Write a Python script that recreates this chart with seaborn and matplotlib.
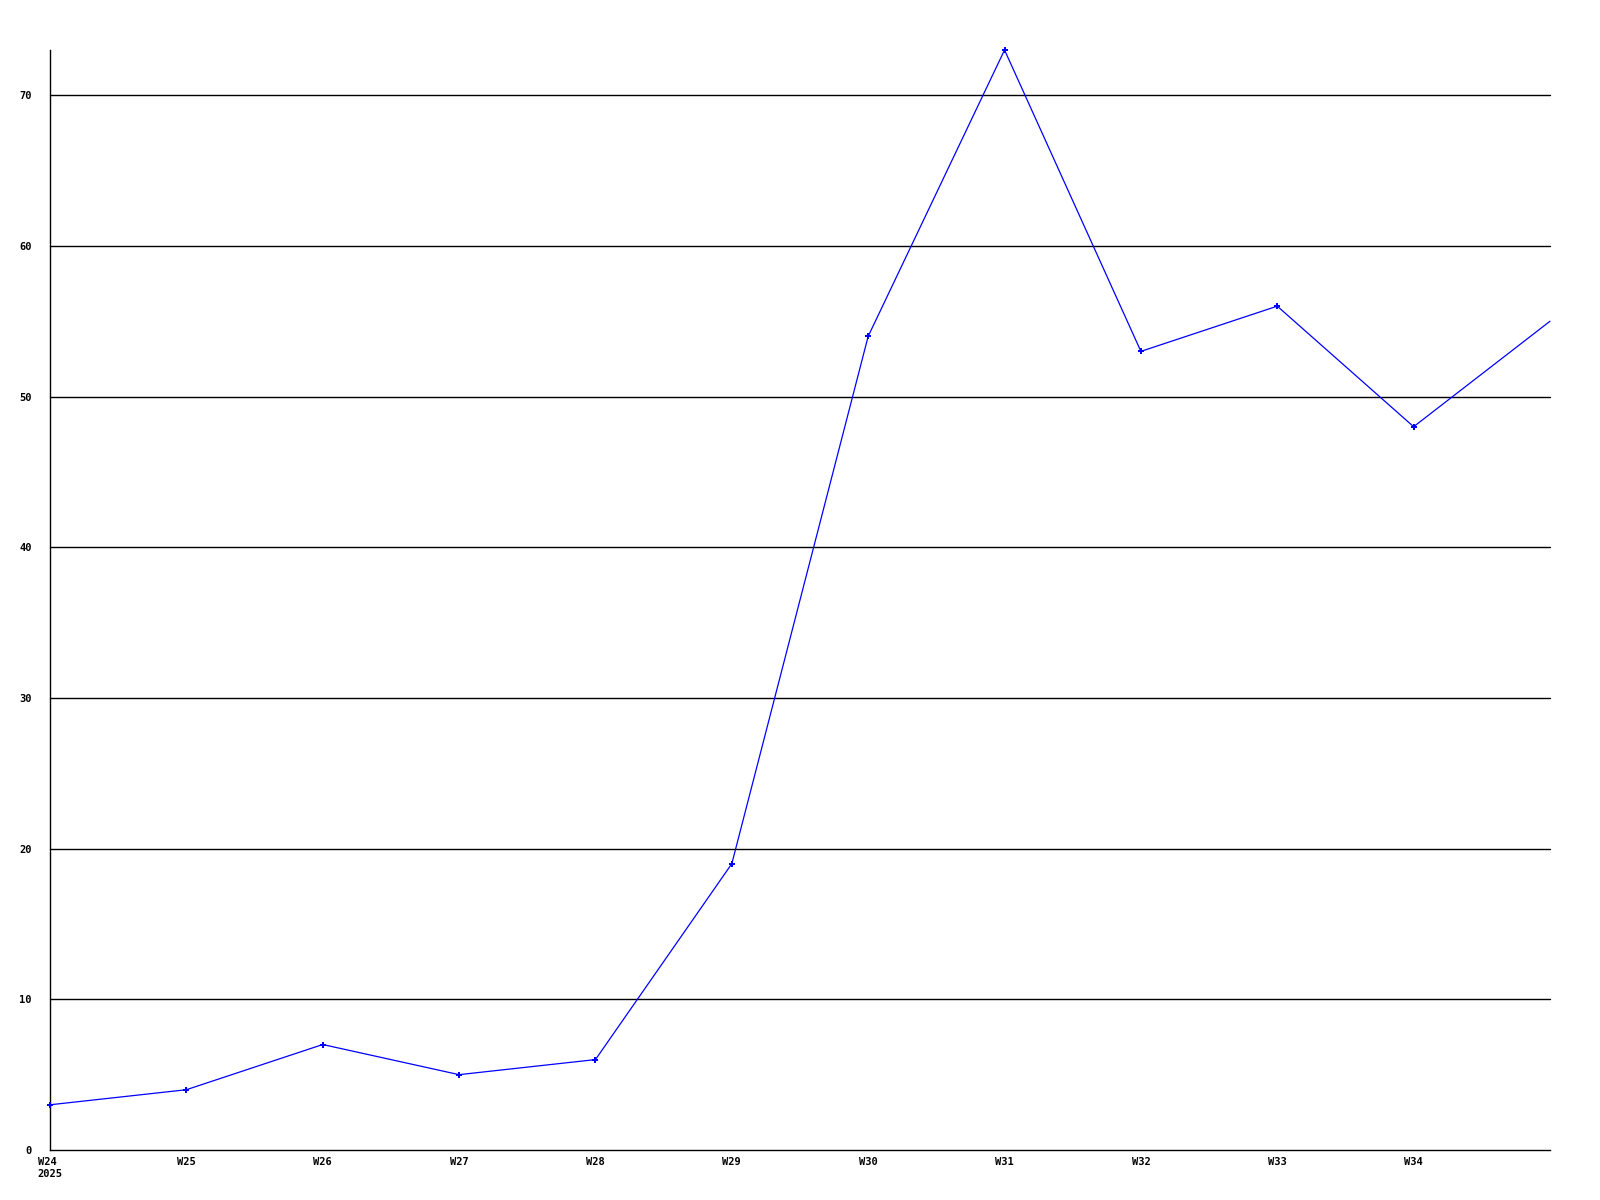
import matplotlib
matplotlib.use('Agg')
import matplotlib.pyplot as plt
import pandas as pd
import seaborn as sns

# weekly values
weeks = ['W24', 'W25', 'W26', 'W27', 'W28', 'W29', 'W30', 'W31', 'W32', 'W33', 'W34', 'W35']
values = [3, 4, 7, 5, 6, 19, 54, 73, 53, 56, 48, 55]
tick_labels = ['W24\n2025', 'W25', 'W26', 'W27', 'W28', 'W29', 'W30', 'W31', 'W32', 'W33', 'W34']
y_ticks = [0, 10, 20, 30, 40, 50, 60, 70]

df = pd.DataFrame({'week': weeks, 'value': values})
df['pos'] = range(len(df))

sns.set_style('white')
plt.rcParams['font.family'] = ['DejaVu Sans Mono']
plt.rcParams['text.color'] = 'black'
plt.rcParams['xtick.color'] = 'black'
plt.rcParams['ytick.color'] = 'black'

fig = plt.figure(figsize=(16, 12), dpi=100)
ax = fig.add_axes([50/1600, 50/1200, 1500/1600, 1100/1200])

for y in y_ticks[1:]:
    ax.axhline(y, color='black', lw=1.0, zorder=1)

sns.lineplot(data=df, x='pos', y='value', ax=ax, color='#0000ff', lw=0.9,
             marker='P', markersize=4, markeredgewidth=0, markevery=list(range(11)),
             zorder=3)
for line in ax.get_lines():
    line.set_clip_on(False)

ax.set_xlim(0, 11)
ax.set_ylim(0, 73)
ax.set_xticks(range(len(tick_labels)))
ax.set_xticklabels(tick_labels, fontsize=7.5, fontweight='bold', ha='center',
                   multialignment='left', color='black')
ax.set_yticks(y_ticks)
ax.set_yticklabels([str(v) for v in y_ticks], fontsize=7.5, fontweight='bold', color='black')
ax.tick_params(axis='both', length=0)
ax.tick_params(axis='y', pad=13)
ax.tick_params(axis='x', pad=5)
ax.set_xlabel('')
ax.set_ylabel('')

for s in ['top', 'right']:
    ax.spines[s].set_visible(False)
for s in ['left', 'bottom']:
    ax.spines[s].set_color('black')
    ax.spines[s].set_linewidth(1.0)

fig.savefig('out.png', dpi=100)
